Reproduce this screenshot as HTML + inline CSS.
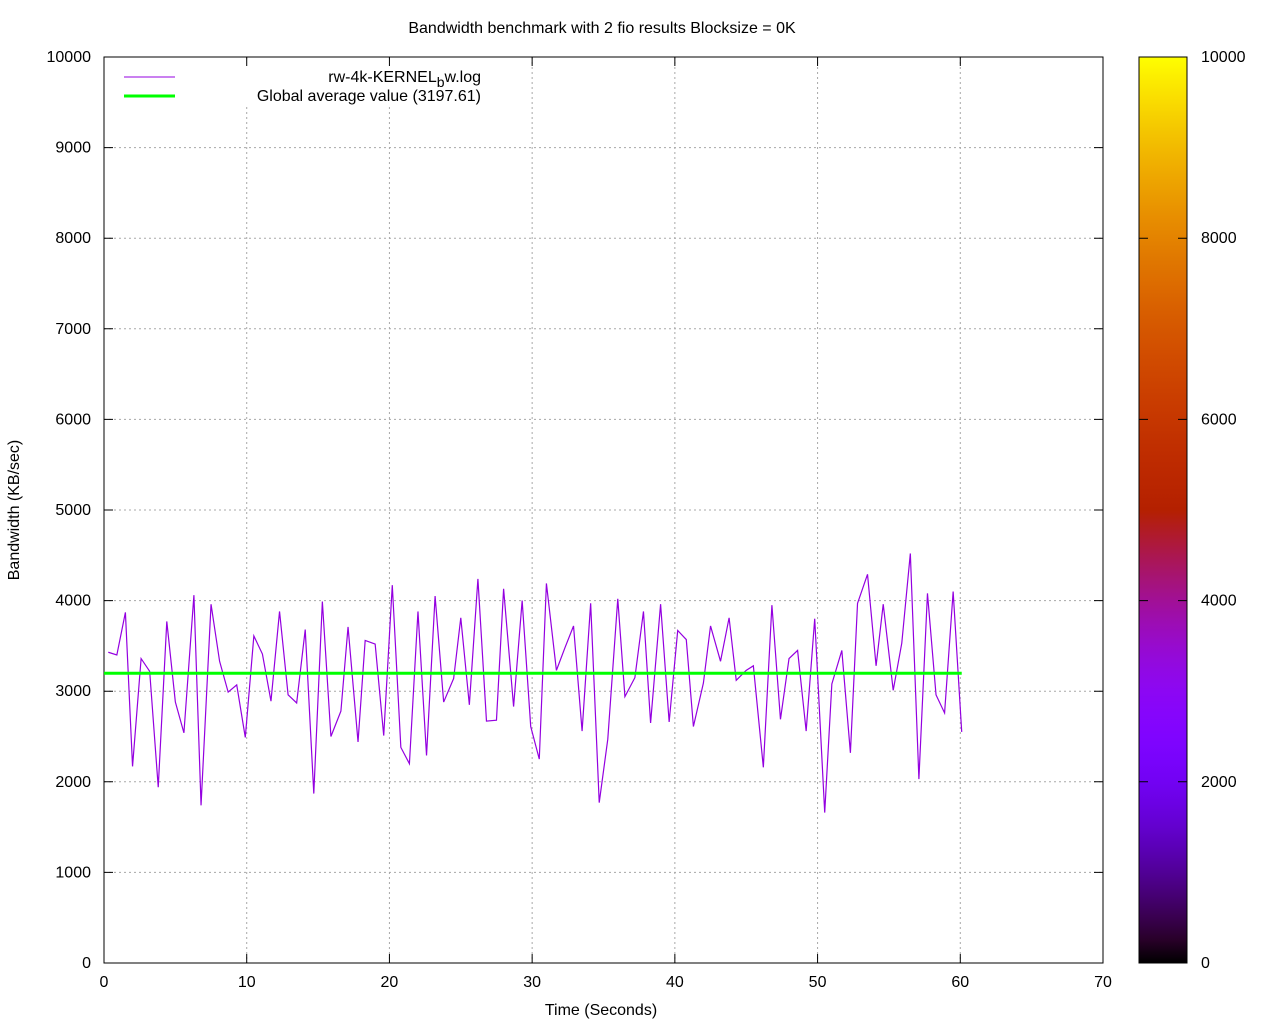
<!DOCTYPE html>
<html><head><meta charset="utf-8"><style>
body{margin:0;background:#fff;}
svg text{font-family:"Liberation Sans",sans-serif;font-size:16px;fill:#000;}
</style></head><body>
<svg id="chart" width="1280" height="1024" xmlns="http://www.w3.org/2000/svg">
<defs><linearGradient id="pal" x1="0" y1="1" x2="0" y2="0"></linearGradient></defs>
<text x="602" y="33" text-anchor="middle">Bandwidth benchmark with 2 fio results  Blocksize = 0K</text>
<text transform="translate(19,510) rotate(-90)" text-anchor="middle">Bandwidth (KB/sec)</text>
<text x="601" y="1015" text-anchor="middle">Time (Seconds)</text>
<g id="grid"></g>
<rect x="110" y="60" width="380" height="46" fill="#fff"/>
<g id="axes"></g><g id="series"></g>
<g id="legend">
<line x1="124" y1="77" x2="175" y2="77" stroke="#9400e0" stroke-width="1"/>
<text x="481" y="82" text-anchor="end">rw-4k-KERNEL<tspan dy="5" font-size="14">b</tspan><tspan dy="-5">w.log</tspan></text>
<line x1="124" y1="96" x2="175" y2="96" stroke="#00ff00" stroke-width="3"/>
<text x="481" y="101" text-anchor="end">Global average value (3197.61)</text>
</g>
<g id="cbar"></g>
</svg>
<script>
const times=[0.3,0.9,1.5,2.0,2.6,3.2,3.8,4.4,5.0,5.6,6.3,6.8,7.5,8.1,8.7,9.3,9.9,10.5,11.1,11.7,12.3,12.9,13.5,14.1,14.7,15.3,15.9,16.6,17.1,17.8,18.3,19.0,19.6,20.2,20.8,21.4,22.0,22.6,23.2,23.8,24.5,25.0,25.6,26.2,26.8,27.5,28.0,28.7,29.3,29.9,30.5,31.0,31.7,32.3,32.9,33.5,34.1,34.7,35.3,36.0,36.5,37.2,37.8,38.3,39.0,39.6,40.2,40.8,41.3,42.0,42.5,43.2,43.8,44.3,45.0,45.5,46.2,46.8,47.4,48.0,48.6,49.2,49.8,50.5,51.0,51.7,52.3,52.8,53.5,54.1,54.6,55.3,55.9,56.5,57.1,57.7,58.3,58.9,59.5,60.1];
const bw=[3430,3400,3870,2170,3360,3220,1940,3770,2880,2540,4060,1740,3960,3330,2990,3070,2490,3610,3410,2890,3880,2960,2870,3680,1870,3990,2500,2780,3710,2440,3560,3520,2510,4170,2380,2200,3880,2290,4050,2880,3140,3810,2850,4240,2670,2680,4130,2830,4000,2610,2250,4190,3230,3480,3720,2560,3970,1770,2470,4020,2940,3150,3880,2650,3960,2660,3670,3570,2610,3090,3720,3330,3810,3120,3230,3280,2160,3950,2690,3360,3450,2560,3800,1660,3080,3450,2320,3970,4290,3280,3960,3010,3530,4520,2030,4080,2960,2760,4100,2550];
const avg=[3197.61];
const xTicks=[0,10,20,30,40,50,60,70];
const yTicks=[0,1000,2000,3000,4000,5000,6000,7000,8000,9000,10000];
const cbTicks=[0,2000,4000,6000,8000,10000];
const L=104,R=1103,T=57,B=963;
const X=v=>L+(v/70)*(R-L), Y=v=>B-(v/10000)*(B-T);
const NS="http://www.w3.org/2000/svg";
function mk(tag,attrs,parent){const e=document.createElementNS(NS,tag);for(const k in attrs)e.setAttribute(k,attrs[k]);parent.appendChild(e);return e;}
const grid=document.getElementById('grid'),axes=document.getElementById('axes');
xTicks.forEach(t=>{const x=X(t);
 if(t>0&&t<70){const g=mk('line',{x1:x,y1:T,x2:x,y2:B,stroke:'#a8a8a8','stroke-dasharray':'2,3'},grid);}
 const tk=mk('path',{d:`M${x},${B}v-9M${x},${T}v9`,stroke:'#000'},axes);
 const lb=mk('text',{x:x,y:B+24,'text-anchor':'middle'},axes);lb.textContent=t;});
yTicks.forEach(t=>{const y=Y(t);
 if(t>0&&t<10000){const g=mk('line',{x1:L,y1:y,x2:R,y2:y,stroke:'#a8a8a8','stroke-dasharray':'2,3'},grid);}
 const tk=mk('path',{d:`M${L},${y}h9M${R},${y}h-9`,stroke:'#000'},axes);
 const lb=mk('text',{x:L-13,y:y+5,'text-anchor':'end'},axes);lb.textContent=t;});
const fr=mk('rect',{x:L,y:T,width:R-L,height:B-T,fill:'none',stroke:'#000'},axes);
const ser=document.getElementById('series');
const pl=mk('polyline',{points:times.map((t,i)=>X(t)+','+Y(bw[i])).join(' '),fill:'none',stroke:'#9400e0','stroke-width':1.2},ser);

const av=mk('line',{x1:X(0),y1:Y(avg[0]),x2:X(times[times.length-1]),y2:Y(avg[0]),stroke:'#00ff00','stroke-width':3},ser);

const gr=document.getElementById('pal');
for(let i=0;i<=40;i++){const f=i/40;const r=Math.sqrt(f),g=f*f*f,b=Math.max(0,Math.sin(2*Math.PI*f));
 mk('stop',{offset:f,'stop-color':`rgb(${Math.round(r*255)},${Math.round(g*255)},${Math.round(b*255)})`},gr);}
const cb=document.getElementById('cbar');
const cr=mk('rect',{x:1139,y:T,width:48,height:B-T,fill:'url(#pal)',stroke:'#000'},cb);

cbTicks.forEach(t=>{const y=Y(t);
 const tk=mk('path',{d:`M1139,${y}h9M1187,${y}h-9`,stroke:'#000'},cb);
 const lb=mk('text',{x:1201,y:y+5},cb);lb.textContent=t;});
</script>
</body></html>
